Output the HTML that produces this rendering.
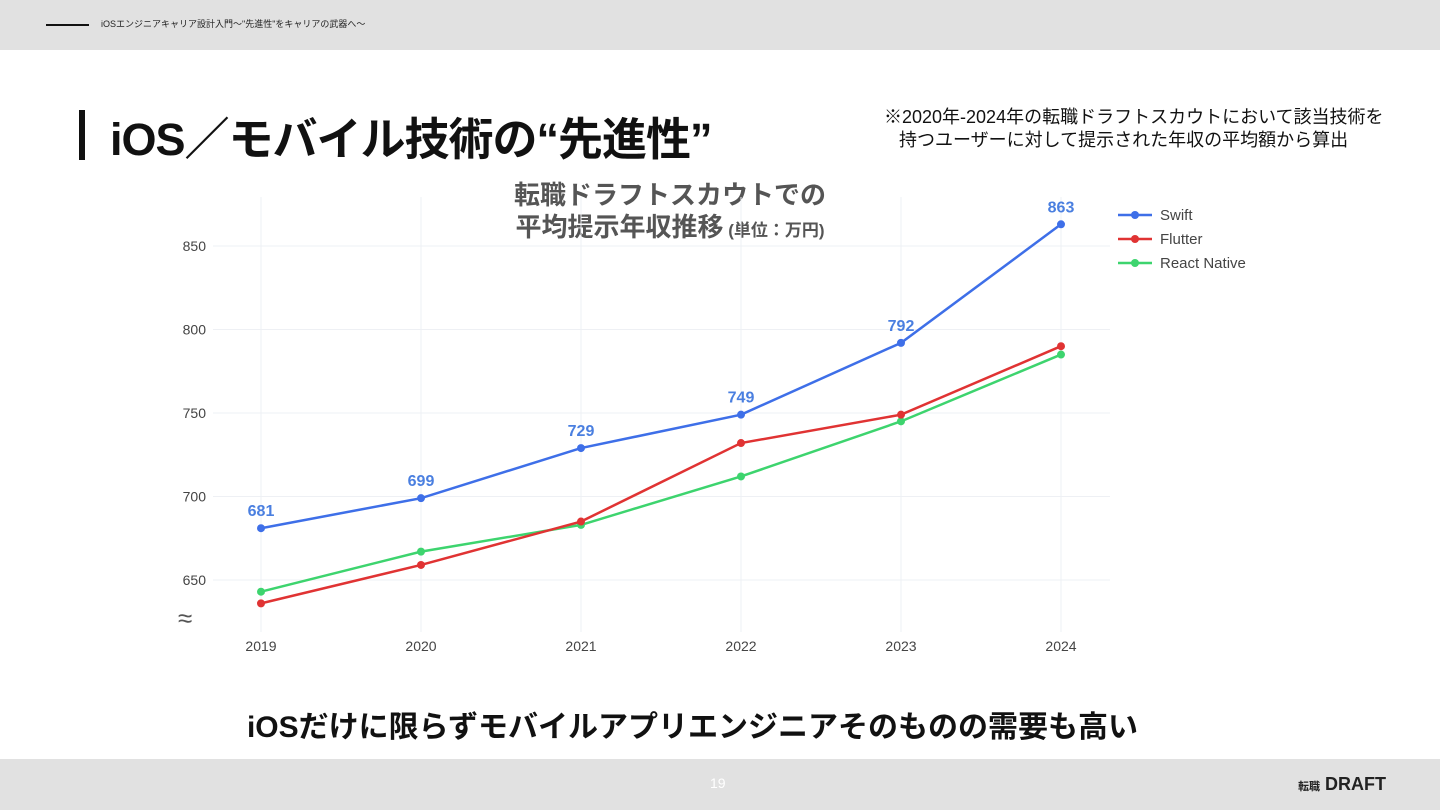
<!DOCTYPE html>
<html><head><meta charset="utf-8"><style>
body{margin:0;width:1440px;height:810px;position:relative;background:#fff;font-family:"Liberation Sans","Noto Sans CJK JP",sans-serif;overflow:hidden}
.a{position:absolute}
</style></head><body>
<div class="a" style="left:0;top:0;width:1440px;height:50px;background:#e1e1e1"></div>
<div class="a" style="left:46px;top:24px;width:43px;height:2px;background:#111"></div>
<div class="a" style="left:101px;top:17px;font-size:9px;color:#222">iOSエンジニアキャリア設計入門〜"先進性"をキャリアの武器へ〜</div>
<div class="a" style="left:79px;top:110px;width:6px;height:50px;background:#111"></div>
<div class="a" style="left:110px;top:103px;font-size:45px;font-weight:bold;color:#111;letter-spacing:-1px">iOS／モバイル技術の“先進性”</div>
<div class="a" style="left:884px;top:106px;font-size:18px;line-height:23px;color:#111">※2020年-2024年の転職ドラフトスカウトにおいて該当技術を<br>&nbsp;&nbsp;&nbsp;持つユーザーに対して提示された年収の平均額から算出</div>
<div class="a" style="left:490px;top:179px;width:360px;text-align:center;font-size:26px;font-weight:bold;color:#555;line-height:32px">転職ドラフトスカウトでの<br>平均提示年収推移<span style="font-size:17px"> (単位：万円)</span></div>
<svg class="a" id="chart" style="left:0;top:0" width="1440" height="810"></svg>
<div class="a" style="left:178px;top:603px;font-size:26px;color:#555">≈</div>
<div class="a" style="left:0;top:702px;width:1385px;text-align:center;font-size:30px;font-weight:bold;color:#111">iOSだけに限らずモバイルアプリエンジニアそのものの需要も高い</div>
<div class="a" style="left:0;top:759px;width:1440px;height:51px;background:#e1e1e1"></div>
<div class="a" style="left:710px;top:775px;font-size:14px;color:#fff">19</div>
<div class="a" style="left:1298px;top:774px;font-size:18px;font-weight:bold;color:#222"><span style="font-size:11px">転職</span> DRAFT</div>
<script>
const years=["2019","2020","2021","2022","2023","2024"];
const swift=[681,699,729,749,792,863];
const flutter=[636,659,685,732,749,790];
const reactNative=[643,667,683,712,745,785];
const yTicks=[650,700,750,800,850];
const ns="http://www.w3.org/2000/svg";
const svg=document.getElementById('chart');
const X=i=>261+i*160;
const Y=v=>246+(850-v)*(83.5/50);
function el(t,a,p){const e=document.createElementNS(ns,t);for(const k in a)e.setAttribute(k,a[k]);(p||svg).appendChild(e);return e;}
years.forEach((y,i)=>{
 const g=el('line',{x1:X(i),x2:X(i),y1:197,y2:632,stroke:'#eef0f4'});
 
 
 const t=el('text',{x:X(i),y:651,'text-anchor':'middle','font-size':14,fill:'#444'});t.textContent=y;
 
 
});
yTicks.forEach(v=>{
 const g=el('line',{x1:213,x2:1110,y1:Y(v),y2:Y(v),stroke:'#eef0f4'});
 
 
 const t=el('text',{x:206,y:Y(v)+5,'text-anchor':'end','font-size':14,fill:'#444'});t.textContent=v;
 
 
});
const series=[["Swift",swift,"#3e6fe8"],["Flutter",flutter,"#e03333"],["React Native",reactNative,"#3dd46e"]];
series.slice().reverse().forEach(([n,d,c])=>{
 const p=el('polyline',{points:d.map((v,i)=>X(i)+','+Y(v)).join(' '),fill:'none',stroke:c,'stroke-width':2.5});
 
 
 d.forEach((v,i)=>{const m=el('circle',{cx:X(i),cy:Y(v),r:4,fill:c});
 
 });
});
swift.forEach((v,i)=>{const t=el('text',{x:X(i),y:Y(v)-12,'text-anchor':'middle','font-size':16,'font-weight':'bold',fill:'#4a7fe0'});t.textContent=v;
 
 });
series.forEach(([n,d,c],i)=>{
 const y=215+i*24;
 const l=el('line',{x1:1118,x2:1152,y1:y,y2:y,stroke:c,'stroke-width':2.5});
 
 
 const m=el('circle',{cx:1135,cy:y,r:4,fill:c});
 
 
 const t=el('text',{x:1160,y:y+5,'font-size':15,fill:'#444'});t.textContent=n;
 
 
});
</script>
</body></html>
